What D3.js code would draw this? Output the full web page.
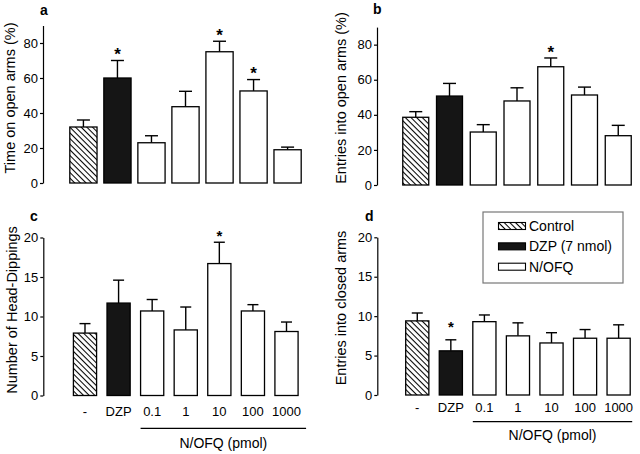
<!DOCTYPE html>
<html>
<head>
<meta charset="utf-8">
<script src="https://cdn.jsdelivr.net/npm/d3@7"></script>
<style>
  body { margin: 0; background: #fff; }
  svg { display: block; font-family: "Liberation Sans", Arial, sans-serif; }
</style>
</head>
<body>
<div id="chart"></div>
<script>
const groups = ["-", "DZP", "0.1", "1", "10", "100", "1000"];
const kinds  = ["control", "dzp", "nofq", "nofq", "nofq", "nofq", "nofq"];

const timeOpen      = [32, 60, 23, 43.6, 75, 52.6, 19];
const timeOpenErr   = [4, 10, 4, 8.8, 6, 6.5, 1.5];
const timeOpenSig   = [0, 1, 0, 0, 1, 1, 0];

const entriesOpen    = [38.6, 50.7, 30.2, 47.9, 67.4, 51.3, 28.1];
const entriesOpenErr = [3.2, 7.2, 4.2, 7.5, 5, 4.5, 5.9];
const entriesOpenSig = [0, 0, 0, 0, 1, 0, 0];

const headDips    = [7.9, 11.7, 10.7, 8.3, 16.7, 10.7, 8.1];
const headDipsErr = [1.2, 2.9, 1.45, 2.9, 2.7, 0.8, 1.2];
const headDipsSig = [0, 0, 0, 0, 1, 0, 0];

const closedEntries    = [9.4, 5.6, 9.3, 7.5, 6.6, 7.2, 7.2];
const closedEntriesErr = [1.0, 1.4, 0.85, 1.65, 1.3, 1.1, 1.7];
const closedEntriesSig = [0, 1, 0, 0, 0, 0, 0];

const yTicksPct   = [0, 20, 40, 60, 80];
const yTicksCount = [0, 5, 10, 15, 20];

const legendLabels = ["Control", "DZP (7 nmol)", "N/OFQ"];
const legendKinds  = ["control", "dzp", "nofq"];
const doseTitle = "N/OFQ (pmol)";

const width = 640, height = 454;

const svg = d3.select("#chart").append("svg")
  .attr("width", width)
  .attr("height", height);

const defs = svg.append("defs");
const hatch = defs.append("pattern")
  .attr("id", "hatch")
  .attr("patternUnits", "userSpaceOnUse")
  .attr("width", 4)
  .attr("height", 4)
  .attr("patternTransform", "rotate(45)");
hatch.append("rect").attr("width", 4).attr("height", 4).attr("fill", "#fff");
hatch.append("line")
  .attr("x1", 0).attr("y1", 0).attr("x2", 4).attr("y2", 0)
  .attr("stroke", "#000").attr("stroke-width", 2.1);

const fillFor = k => k === "control" ? "url(#hatch)" : k === "dzp" ? "#151515" : "#fff";

const panels = [
  { letter: "a", letterPos: [40, 15], title: "Time on open arms (%)", titlePos: [10, 98],
    values: timeOpen, errs: timeOpenErr, sig: timeOpenSig,
    domain: [0, 90], ticks: yTicksPct, yRange: [183, 25.5],
    xRange: [63, 308], pad: 0.2, axisX: 43, cap: 13, starGap: 10, starSize: 17, labels: false },
  { letter: "b", letterPos: [373, 14], title: "Entries into open arms (%)", titlePos: [341, 98],
    values: entriesOpen, errs: entriesOpenErr, sig: entriesOpenSig,
    domain: [0, 90], ticks: yTicksPct, yRange: [185, 27.1],
    xRange: [395, 639], pad: 0.23, axisX: 377, cap: 13, starGap: 10, starSize: 17, labels: false },
  { letter: "c", letterPos: [30, 221], title: "Number of Head-Dippings", titlePos: [12, 310],
    values: headDips, errs: headDipsErr, sig: headDipsSig,
    domain: [0, 20], ticks: yTicksCount, yRange: [395.5, 237.5],
    xRange: [63, 308.5], pad: 0.31, axisX: 43.3, cap: 11, starGap: 9.5, starSize: 15,
    labels: true, labelY: 416, lineY: 428.3, lineEnd: 8, doseY: 448 },
  { letter: "d", letterPos: [365, 221], title: "Entries into closed arms", titlePos: [341, 308],
    values: closedEntries, errs: closedEntriesErr, sig: closedEntriesSig,
    domain: [0, 20], ticks: yTicksCount, yRange: [395, 237.3],
    xRange: [395.3, 640.6], pad: 0.31, axisX: 377.3, cap: 11, starGap: 16, starSize: 15,
    labels: true, labelY: 411.5, lineY: 421.7, lineEnd: 2, doseY: 440 }
];

panels.forEach(p => {
  const g = svg.append("g");
  const x = d3.scaleBand().domain(groups).range(p.xRange).padding(p.pad);
  const y = d3.scaleLinear().domain(p.domain).range(p.yRange);
  const rows = groups.map((k, i) => ({ key: k, kind: kinds[i], v: p.values[i], e: p.errs[i], s: p.sig[i] }));
  const cx = d => x(d.key) + x.bandwidth() / 2;

  // error bars, upper half only
  const eb = g.selectAll("g.err").data(rows).enter().append("g").attr("class", "err");
  eb.append("line")
    .attr("x1", cx).attr("x2", cx)
    .attr("y1", d => y(d.v))
    .attr("y2", d => y(d.v + d.e))
    .attr("stroke", "#000").attr("stroke-width", 1.4);
  eb.append("line")
    .attr("x1", d => cx(d) - p.cap / 2)
    .attr("x2", d => cx(d) + p.cap / 2)
    .attr("y1", d => y(d.v + d.e))
    .attr("y2", d => y(d.v + d.e))
    .attr("stroke", "#000").attr("stroke-width", 1.4);

  g.selectAll("rect.bar").data(rows).enter().append("rect")
    .attr("class", "bar")
    .attr("x", d => x(d.key))
    .attr("y", d => y(d.v))
    .attr("width", x.bandwidth())
    .attr("height", d => y(0) - y(d.v))
    .attr("fill", d => fillFor(d.kind))
    .attr("stroke", "#000")
    .attr("stroke-width", 1.3);

  g.selectAll("text.star").data(rows.filter(d => d.s)).enter().append("text")
    .attr("class", "star")
    .attr("x", cx)
    .attr("y", d => y(d.v + d.e) - p.starGap + p.starSize * 0.57)
    .attr("text-anchor", "middle")
    .attr("font-size", p.starSize)
    .attr("font-weight", "bold")
    .text("*");

  const axis = d3.axisLeft(y).tickValues(p.ticks).tickSize(3).tickSizeOuter(0).tickPadding(2);
  const ag = g.append("g").attr("transform", `translate(${p.axisX},0)`).call(axis);
  ag.select(".domain").attr("stroke-width", 1.2);
  ag.selectAll(".tick line").attr("stroke-width", 1.2);
  ag.selectAll(".tick text").attr("font-size", 13).attr("font-family", "Liberation Sans, Arial, sans-serif");

  g.append("text")
    .attr("transform", `translate(${p.titlePos[0]},${p.titlePos[1]}) rotate(-90)`)
    .attr("dy", "0.35em")
    .attr("text-anchor", "middle")
    .attr("font-size", 14.5)
    .text(p.title);

  g.append("text")
    .attr("x", p.letterPos[0]).attr("y", p.letterPos[1])
    .attr("font-size", 14).attr("font-weight", "bold")
    .text(p.letter);

  if (p.labels) {
    g.selectAll("text.xl").data(groups).enter().append("text")
      .attr("class", "xl")
      .attr("x", d => x(d) + x.bandwidth() / 2)
      .attr("y", p.labelY)
      .attr("text-anchor", "middle")
      .attr("font-size", 13)
      .text(d => d);
    const x0 = x("0.1"), x1 = x("1000") + x.bandwidth() + p.lineEnd;
    g.append("line")
      .attr("x1", x0).attr("x2", x1)
      .attr("y1", p.lineY).attr("y2", p.lineY)
      .attr("stroke", "#000").attr("stroke-width", 1.3);
    g.append("text")
      .attr("x", (x0 + x1) / 2).attr("y", p.doseY)
      .attr("text-anchor", "middle")
      .attr("font-size", 14)
      .text(doseTitle);
  }
});

// legend
const lg = svg.append("g").attr("transform", "translate(483,212)");
lg.append("rect")
  .attr("width", 140).attr("height", 71)
  .attr("fill", "#fff").attr("stroke", "#777").attr("stroke-width", 1.2);
const rowY = d3.scalePoint().domain(legendLabels).range([14, 54.7]);
legendLabels.forEach((lab, i) => {
  lg.append("rect")
    .attr("x", 15.5).attr("y", rowY(lab) - 3.5)
    .attr("width", 27).attr("height", 7)
    .attr("fill", fillFor(legendKinds[i]))
    .attr("stroke", "#000").attr("stroke-width", 1.1);
  lg.append("text")
    .attr("x", 46).attr("y", rowY(lab) + 5)
    .attr("font-size", 14)
    .text(lab);
});
</script>
</body>
</html>
